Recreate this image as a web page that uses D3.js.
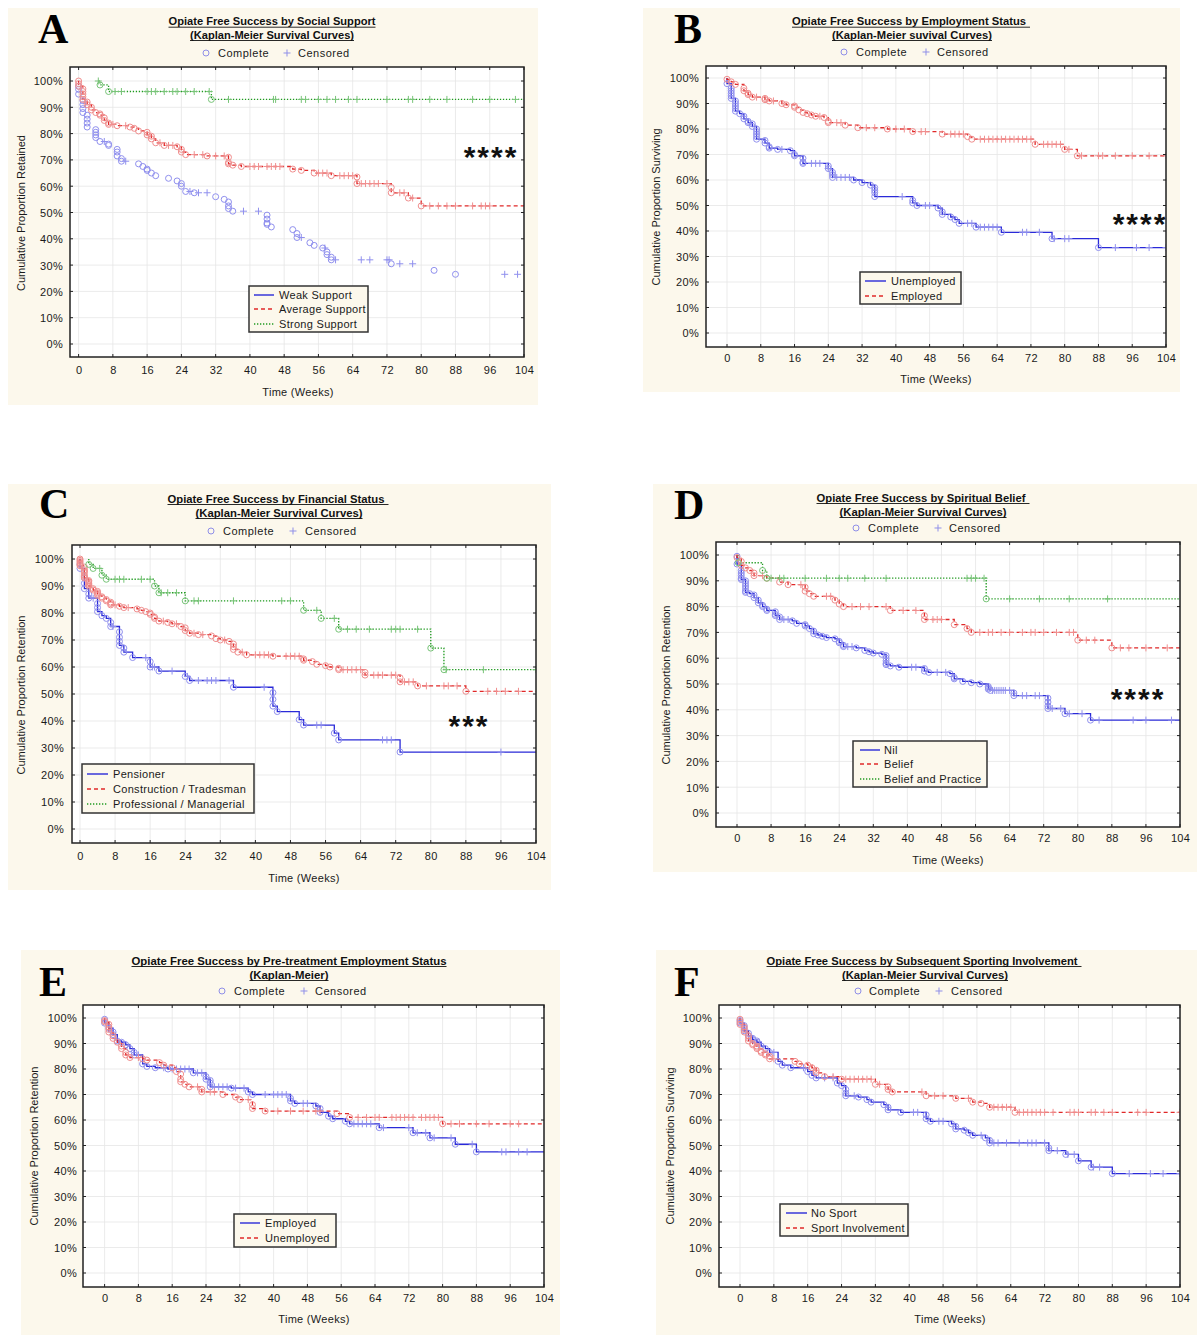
<!DOCTYPE html>
<html><head><meta charset="utf-8">
<script src="https://cdn.jsdelivr.net/npm/d3@7"></script>
<style>html,body{margin:0;padding:0;background:#fff;} svg{display:block}</style>
</head><body>
<svg id="fig" width="1200" height="1335"></svg>
<script>
// ---------- shared tick values / labels ----------
const xTicks = [0,8,16,24,32,40,48,56,64,72,80,88,96,104];
const xTickLabels = ["0","8","16","24","32","40","48","56","64","72","80","88","96","104"];
const yTicks = [0,10,20,30,40,50,60,70,80,90,100];
const yTickLabels = ["0%","10%","20%","30%","40%","50%","60%","70%","80%","90%","100%"];

// ---------- Panel A: Social Support ----------
// events: [week, survival% after each completed case at that week...]
const A_weak_ev = [[0,98,96.8,95],[1,92.5,91,89.5,88],[2,87,85.5,84,82.5],[4,81.5,80.5,79.5,78.5],[5,77],[7,76,75.5],[9,74,73,71.5],[10,70.5,69.5],[14,68.5],[15,67.5],[16,66.5,66],[17,65],[18,64],[21,63],[23,62],[24,61,60],[25,58],[27,57.5],[32,56],[34,55],[35,54,52.5,51.5],[36,50.5],[44,49,47.5,46,45.5],[45,44.5],[50,43.5],[51,42,40.5],[54,38.5],[55,37.5],[57,36.5],[58,35,34],[59,33,32],[73,30.5],[83,28],[88,26.5]];
const A_weak_cens = [6,11,26,28,30,38.5,42,52,57.5,60,66,68,72,72.5,75,78,99.5,102.5];
const A_avg_ev = [[0,100,99,98],[1,97,96,95,94,93],[2,92,91],[3,90,89],[4,88],[5,87.5,87],[6,86,85],[7,84,83.5],[9,83],[12,82.5],[13,82],[14,81],[16,80.5,79.5],[17,79,78],[18,76.5],[20,75.5],[23,75],[24,74,73],[25,72],[30,71.5],[35,71,69,68.5],[36,68],[38,67.5],[50,66.5],[52,66],[55,65],[59,64],[65,63.5,61],[73,59.5,57.5],[77,55.5],[80,52.5]];
const A_avg_cens = [8,11,19,21,22,27,29,32,34,40,41,42,44,45,46,47,56,57,58,61,62,63,64,66,67,68,69,70,72,75,76,78,82,84,86,88,92,94,95,96];
const A_strong_ev = [[5,98.5],[7,96],[31,93]];
const A_strong_cens = [4.6,8.5,10,16,17,18,20,22,23,25,27,30.5,35,45.5,46,52,53,56,58,60,63,65,72,77,78,82,86,92,96,102];
const A_names = ["Weak Support","Average Support","Strong Support"];

// ---------- Panel B: Employment Status ----------
const B_unemp_ev = [[0,97.8],[1,96,95,94,93,92],[2,91,90,89,88,87],[3,86],[4,85,84],[5,83,82.5],[6,82,81],[7,80,79,78,77,76],[9,75.5,74.5],[10,73,72.5],[12,72],[15,71.5],[16,70,69.5],[18,68.5,67,66.5],[24,65.5,64.5],[25,63,62,61],[30,60],[32,59],[34,58],[35,57,56,55,53.5],[44,52,51],[45,50],[50,49],[51,47.5,46.5],[53,45.5],[54,44.5],[55,43],[59,41.5],[65,39.5],[77,37],[88,33.5]];
const B_unemp_cens = [13,20,21,22,24,26,27,28,29,41.5,47,48,57,58,60,61,62,63,64,70,71,74,77.5,80,81,92,97,100,104];
const B_emp_ev = [[0,99.5],[1,98.5],[2,97.5],[4,96,95],[5,94,93.5],[6,92.5],[9,92,91.5],[10,91],[13,90],[14,89.5],[16,89,88.5],[17,87.5],[18,86.5],[19,86],[20,85.5],[21,85],[23,84.5],[24,83,82.5],[28,81.5],[31,80.5],[38,80],[44,79],[51,78],[57,77],[58,76],[73,74],[80,72],[83,69.5]];
const B_emp_cens = [7,11,22,26,27,33,35,40,42,46,47,53,54,55,56,60,61,62,63,64,65,66,67,68,69,70,71,72,75,76,77,78,79,81,84,88,89,92,96,100,104];
const B_names = ["Unemployed","Employed"];

// ---------- Panel C: Financial Status ----------
const C_pens_ev = [[0,98,96.5],[1,93,91,89],[2,87,85.5],[4,83.5,82,80.5],[5,79],[6,78],[7,76.5,75],[9,73,71,69.5,68],[10,67,65.5],[12,63.5],[16,62,60],[18,58.5],[24,56.5],[25,55],[35,52.5],[44,50.5,48,45.5],[45,43.5],[50,40.5],[51,38.5],[58,35.5],[59,33],[73,28.5]];
const C_pens_cens = [3,7.5,15,16.5,17,21,24.5,27,29,30,31,34,42,54,55,69,70,71,96];
const C_cons_ev = [[0,100,99.5,99,98.5,98,97.5],[1,97,96,95.5,95,94,93.5,93],[2,92,91.5,91,90.5,90],[3,89,88.5],[4,88,87.5,87,86.5],[5,86,85.5],[6,85,84.5],[7,84,83.5,83],[9,82.5],[10,82],[13,81.5],[14,81],[15,80.5],[16,80,79.5],[17,78.5,78],[18,77],[20,76.5],[21,76],[23,75],[24,74.5,73.5],[25,72.5],[27,72],[30,71.5],[31,70.5],[32,70],[34,69.5],[35,68.5,67.5,66.5],[36,65.5],[38,64.5],[44,64],[51,63,62.5],[53,62],[54,61],[56,60.5],[57,60],[59,59.5,59],[65,58,57],[73,56,54.5],[77,53],[88,51]];
const C_cons_cens = [8,11,19,22,26,28,33,37,40,41,42,43,47,48,49,50,60,61,62,63,64,67,68,69,71,72,74,75,76,79,83,84,86,93,95,97,100];
const C_prof_ev = [[2,98],[3,96.5],[5,94],[6,92.5],[17,90],[18,87.5],[24,84.5],[51,81],[55,78],[59,74],[80,67],[83,59]];
const C_prof_cens = [4.5,8,9,10,14,16,18.5,20,22,26,27,35,46,48,54,58,61,63,66,71,72,73,77,83.5,92,104];
const C_names = ["Pensioner","Construction / Tradesman","Professional / Managerial"];

// ---------- Panel D: Spiritual Belief ----------
const D_nil_ev = [[0,99.5,96.5],[1,94,93,92,91,90.5],[2,90,89,88,87,86,85.5],[3,85],[4,84.5,83.5],[5,82.5,81.5],[6,80.5,80],[7,79,78.5],[9,78,77,76.5],[10,76,75],[13,74.5],[14,73.5],[16,73,72.5],[17,71.5],[18,70.5,69.5],[19,69],[20,68.5],[21,68],[23,67.5],[24,66.5,66],[25,65,64.5],[28,64],[30,63],[31,62.5],[32,62],[34,61.5],[35,61,60,59,58,57.5],[36,57],[38,56.5],[44,56,55],[45,54.5],[50,54],[51,52.5,52],[53,51],[55,50.5],[57,50],[59,49,48.5,48],[59.5,47.5],[65,46.5,45.5],[73,44.5,43,41.5,40.5],[77,38.5],[83,36]];
const D_nil_cens = [11,12,26,27,41,42,47,49,60,60.5,61,61.5,62,62.5,63,64,67,68,70,71,74,76,78,81,85,93,96,102];
const D_bel_ev = [[0,99],[1,97.5,96],[2,95],[3,94],[4,93,92],[7,91],[10,89.5],[12,88.5],[16,87.5,86],[17,85],[18,84],[23,82.5],[24,81],[25,80],[36,78.5],[44,76.5,75],[51,73],[54,71.5],[55,70],[80,67],[88,64]];
const D_bel_cens = [6,15,21,22,27,29,31,35,39,42,46,47,48,57,59,60,62,64,67,69,70,72,75,78,79,82,84,90,92,96,101];
const D_bp_ev = [[0.3,97],[6,94],[7,91],[58.5,83]];
const D_bp_cens = [8,10,11,16,21,24,26,30,35,54,55,56,58,64,71,78,87];
const D_names = ["Nil","Belief","Belief and Practice"];

// ---------- Panel E: Pre-treatment Employment ----------
const E_emp_ev = [[0,99.5,98],[1,96],[2,94.5,93.5],[3,91],[4,90.5],[5,89.5],[6,88],[7,86.5,85.5],[9,82],[10,81],[12,80.5],[15,80],[21,78.5],[24,77,76],[25,75.5,74.5,73],[30,72.5],[34,71],[35,70],[44,68.5,67.5],[45,66.5],[50,65.5],[51,64.5,63],[53,61.5],[54,60.5],[57,59.5],[58,58.5],[65,57],[73,55],[77,53],[83,50.5],[88,47.5]];
const E_emp_cens = [8,14,16,17,18,19,20,22,23,26,27,28,29,31,33,38,40,41,42,43,47,48,59,60,61,62,63,66,72,74,76,78,82,87,94,95,98,100];
const E_unemp_ev = [[0,99,98.5],[1,97.5,96.5,95.5,94.5],[2,93,92],[3,90.5],[4,89,88],[5,86.5,85.5],[6,84.5],[9,84],[10,83.5],[13,82.5],[14,81.5],[16,80.5],[17,79],[18,78,76,75],[19,74],[20,73],[23,72,71],[28,70],[31,69],[32,68],[35,66,64.5],[38,63.5],[55,62.5],[58,61],[80,58.5]];
const E_unemp_cens = [8,22,25,26,34,41,44,47,50,51,60,62,64,65,68,69,70,71,72,73,75,76,77,78,79,82,84,88,91,96,98];
const E_names = ["Employed","Unemployed"];

// ---------- Panel F: Sporting Involvement ----------
const F_no_ev = [[0,99,98],[1,97,96,95],[2,94,93],[3,92,91.5],[4,91,90.5],[5,89],[6,88],[7,86.5],[9,83],[10,81.5],[12,80.5],[16,79],[17,77.5],[18,76.5],[23,74.5],[24,73.5],[25,72,70.5,69.5],[28,69],[30,68],[31,67],[34,66],[35,65,64],[38,63],[44,62,60.5],[45,59.5],[50,58.5],[51,57.5,56.5],[53,56],[54,55],[55,54],[58,53],[59,52,51],[73,49,48],[77,46.5],[80,44],[83,41.5],[88,39]];
const F_no_cens = [8,15,20,22,27,41,42,47,48,57,60,61,63,66,68,69,70,72,75,77.5,79,83.5,85,92,97,100,104];
const F_sport_ev = [[0,99.5,98.5,97.5],[1,96.5,95.5,94.5],[2,93,92,91],[3,90,89.5],[4,89,88.5,88],[5,87,86.5],[6,86,85.5],[7,85,84],[13,83],[14,82],[16,81.5],[17,80.5],[18,79.5,78.5],[20,77],[24,76],[32,74],[35,73,72],[36,71],[44,69.5],[51,68.5],[55,67],[57,66.5],[59,65],[65,63]];
const F_sport_cens = [8,22,25,26,27,28,29,30,31,33,43,46,48,54,60,61,62,63,64,66,67,68,69,70,71,72,74,78,79,80,83,84,86,88,94,96,104];
const F_names = ["No Sport","Sport Involvement"];

// ---------- styles ----------
const STY = [
  {line:"#2a2ad8", dash:null, mark:"#9090ee"},
  {line:"#e02828", dash:"4,3", mark:"#f08e8e"},
  {line:"#1f9a1f", dash:"1.3,1.7", mark:"#78c478"}
];
const BG = "#fcf8ec";
const SANS = "'Liberation Sans', Arial, sans-serif";
const SERIF = "'Liberation Serif', 'Times New Roman', serif";

const svg = d3.select("#fig");

// ---------- panel configs (layout only) ----------
const panels = [
 {letter:"A", lx:38, ly:43, bg:[8,8,538,405],
  left:70, top:67, bottom:357, x0:78.6, x104:524, y0:344, y100:81,
  t1:["Opiate Free Success by Social Support",272,21.7,207,207], t2:["(Kaplan-Meier Survival Curves)",272,35,164],
  hdr:{cy:53,c:206,ct:218,p:287,pt:298},
  ylab:["Cumulative Proportion Retained",21,213], yr:63, xy:370, xlab:[298,392],
  leg:{x1:249,y1:286,x2:368,y2:332,rows:[295,309,324],l1:254,l2:274,tx:279},
  stars:["****",491,150], hideFirstLine:true,
  series:[[A_weak_ev,A_weak_cens],[A_avg_ev,A_avg_cens],[A_strong_ev,A_strong_cens]], names:A_names},
 {letter:"B", lx:674, ly:43, bg:[643,8,1180,392],
  left:706, top:66, bottom:347, x0:727, x104:1166, y0:333, y100:78,
  t1:["Opiate Free Success by Employment Status",911,21.7,234,238], t2:["(Kaplan-Meier suvival Curves)",912,35,160],
  hdr:{cy:52,c:844,ct:856,p:926,pt:937},
  ylab:["Cumulative Proportion Surviving",656,207], yr:699, xy:358, xlab:[936,379],
  leg:{x1:860,y1:272,x2:961,y2:304,rows:[281,296],l1:865,l2:886,tx:891},
  stars:["****",1140,217],
  series:[[B_unemp_ev,B_unemp_cens],[B_emp_ev,B_emp_cens]], names:B_names},
 {letter:"C", lx:39, ly:518, bg:[8,484,551,890],
  left:72, top:545, bottom:843, x0:80, x104:536, y0:829, y100:559,
  t1:["Opiate Free Success by Financial Status",278,499,217,221], t2:["(Kaplan-Meier Survival Curves)",279,513,167],
  hdr:{cy:531,c:211,ct:223,p:293,pt:305},
  ylab:["Cumulative Proportion Retention",21,695], yr:64, xy:856, xlab:[304,878],
  leg:{x1:82,y1:764,x2:254,y2:813,rows:[774,789,804],l1:87,l2:108,tx:113},
  stars:["***",469,719],
  series:[[C_pens_ev,C_pens_cens],[C_cons_ev,C_cons_cens],[C_prof_ev,C_prof_cens]], names:C_names},
 {letter:"D", lx:674, ly:519, bg:[653,484,1197,872],
  left:716, top:542, bottom:827, x0:737, x104:1180, y0:813, y100:555,
  t1:["Opiate Free Success by Spiritual Belief",923,498,209,213], t2:["(Kaplan-Meier Survival Curves)",923,512,167],
  hdr:{cy:528,c:856,ct:868,p:938,pt:949},
  ylab:["Cumulative Proportion Retention",666,685], yr:709, xy:838, xlab:[948,860],
  leg:{x1:853,y1:741,x2:987,y2:787,rows:[750,764,779],l1:860,l2:880,tx:884},
  stars:["****",1138,692],
  series:[[D_nil_ev,D_nil_cens],[D_bel_ev,D_bel_cens],[D_bp_ev,D_bp_cens]], names:D_names},
 {letter:"E", lx:39, ly:996, bg:[21,950,560,1335],
  left:83, top:1005, bottom:1287, x0:104.6, x104:544, y0:1273, y100:1018,
  t1:["Opiate Free Success by Pre-treatment Employment Status",289,961,315,315], t2:["(Kaplan-Meier)",289,975,79],
  hdr:{cy:991,c:222,ct:234,p:304,pt:315},
  ylab:["Cumulative Proportion Retention",34,1146], yr:77, xy:1298, xlab:[314,1319],
  leg:{x1:234,y1:1214,x2:336,y2:1247,rows:[1223,1238],l1:240,l2:260,tx:265},
  stars:null,
  series:[[E_emp_ev,E_emp_cens],[E_unemp_ev,E_unemp_cens]], names:E_names},
 {letter:"F", lx:674, ly:996, bg:[656,950,1197,1335],
  left:719, top:1005, bottom:1287, x0:740, x104:1180, y0:1273, y100:1018,
  t1:["Opiate Free Success by Subsequent Sporting Involvement",924,961,311,315], t2:["(Kaplan-Meier Survival Curves)",925,975,166],
  hdr:{cy:991,c:858,ct:869,p:939,pt:951},
  ylab:["Cumulative Proportion Surviving",670,1146], yr:712, xy:1298, xlab:[950,1319],
  leg:{x1:780,y1:1204,x2:908,y2:1236,rows:[1213,1228],l1:786,l2:807,tx:811},
  stars:null,
  series:[[F_no_ev,F_no_cens],[F_sport_ev,F_sport_cens]], names:F_names}
];

function flatEvents(ev){ const out=[]; ev.forEach(r=>{ for(let i=1;i<r.length;i++) out.push([r[0],r[i]]); }); return out; }
// curve starts at the series' first observation (event or censored case), at 100%
function stepPath(ev,cens){
  const fe=flatEvents(ev);
  const start=Math.min(fe.length?fe[0][0]:104, cens.length?cens[0]:104);
  const pts=[[start,100]]; let cur=100;
  fe.forEach(([t,s])=>{ pts.push([t,cur]); pts.push([t,s]); cur=s; });
  pts.push([104,cur]); return pts;
}
function valueAt(ev,t){ let cur=100; flatEvents(ev).forEach(([tt,s])=>{ if(tt<=t) cur=s; }); return cur; }

function plus(g,cx,cy,h,color){
  g.append("line").attr("x1",cx-h).attr("x2",cx+h).attr("y1",cy).attr("y2",cy).attr("stroke",color).attr("stroke-width",1);
  g.append("line").attr("x1",cx).attr("x2",cx).attr("y1",cy-h).attr("y2",cy+h).attr("stroke",color).attr("stroke-width",1);
}

panels.forEach((P,pi)=>{
  const g = svg.append("g");
  g.append("rect").attr("x",P.bg[0]).attr("y",P.bg[1]).attr("width",P.bg[2]-P.bg[0]).attr("height",P.bg[3]-P.bg[1]).attr("fill",BG);
  const x = d3.scaleLinear().domain([0,104]).range([P.x0,P.x104]);
  const y = d3.scaleLinear().domain([0,100]).range([P.y0,P.y100]);
  const L=P.left, R=P.x104, T=P.top, B=P.bottom;
  g.append("rect").attr("x",L).attr("y",T).attr("width",R-L).attr("height",B-T).attr("fill","#fff");
  // grid
  g.append("g").selectAll("line").data(xTicks).join("line")
    .attr("x1",d=>x(d)).attr("x2",d=>x(d)).attr("y1",T).attr("y2",B).attr("stroke","#e6e6e6").attr("stroke-width",0.8);
  g.append("g").selectAll("line").data(yTicks).join("line")
    .attr("y1",d=>y(d)).attr("y2",d=>y(d)).attr("x1",L).attr("x2",R).attr("stroke","#e6e6e6").attr("stroke-width",0.8);
  // clip
  const cid="clip"+pi;
  g.append("clipPath").attr("id",cid).append("rect").attr("x",L).attr("y",T).attr("width",R-L).attr("height",B-T);
  const plot=g.append("g").attr("clip-path",`url(#${cid})`);
  const line=d3.line().x(d=>x(d[0])).y(d=>y(d[1]));
  P.series.forEach(([ev,cens],si)=>{
    if(P.hideFirstLine && si===0) return;
    plot.append("path").attr("d",line(stepPath(ev,cens))).attr("fill","none")
      .attr("stroke",STY[si].line).attr("stroke-width",1.3).attr("stroke-dasharray",STY[si].dash);
  });
  P.series.forEach(([ev,cens],si)=>{
    const mk=plot.append("g");
    flatEvents(ev).forEach(([t,s])=>{
      mk.append("circle").attr("cx",x(t)).attr("cy",y(s)).attr("r",3).attr("fill","none").attr("stroke",STY[si].mark).attr("stroke-width",1);
    });
    cens.forEach(t=>plus(mk,x(t),y(valueAt(ev,t)),3.5,STY[si].mark));
  });
  // frame
  g.append("rect").attr("x",L).attr("y",T).attr("width",R-L).attr("height",B-T).attr("fill","none").attr("stroke","#222").attr("stroke-width",1.5);
  const tk=g.append("g").attr("stroke","#222").attr("stroke-width",1);
  xTicks.forEach(d=>{ tk.append("line").attr("x1",x(d)).attr("x2",x(d)).attr("y1",B).attr("y2",B-3);
                      tk.append("line").attr("x1",x(d)).attr("x2",x(d)).attr("y1",T).attr("y2",T+3); });
  yTicks.forEach(d=>{ tk.append("line").attr("y1",y(d)).attr("y2",y(d)).attr("x1",L).attr("x2",L+3);
                      tk.append("line").attr("y1",y(d)).attr("y2",y(d)).attr("x1",R).attr("x2",R-3); });
  // axes labels via d3 axes
  const ax=g.append("g").attr("transform",`translate(0,${P.xy})`)
    .call(d3.axisBottom(x).tickValues(xTicks).tickFormat((d,i)=>xTickLabels[i]).tickSize(0).tickPadding(0));
  ax.select(".domain").remove();
  ax.selectAll("text").attr("y",0).attr("dy","0.36em").attr("font-family",SANS).attr("font-size",11).attr("fill","#1a1a1a").attr("letter-spacing",0.3);
  const ay=g.append("g").attr("transform",`translate(${P.yr},0)`)
    .call(d3.axisLeft(y).tickValues(yTicks).tickFormat((d,i)=>yTickLabels[i]).tickSize(0).tickPadding(0));
  ay.select(".domain").remove();
  ay.selectAll("text").attr("x",0).attr("dy","0.36em").attr("font-family",SANS).attr("font-size",11).attr("fill","#1a1a1a").attr("letter-spacing",0.3);
  ax.attr("font-family",null).attr("font-size",null); ay.attr("font-family",null).attr("font-size",null);
  // axis titles
  g.append("text").attr("x",P.xlab[0]).attr("y",P.xlab[1]).attr("dy","0.36em").attr("text-anchor","middle")
    .attr("font-family",SANS).attr("font-size",11).attr("letter-spacing",0.3).attr("fill","#1a1a1a").text("Time (Weeks)");
  g.append("text").attr("transform",`translate(${P.ylab[1]},${P.ylab[2]}) rotate(-90)`).attr("dy","0.36em").attr("text-anchor","middle")
    .attr("font-family",SANS).attr("font-size",11).attr("fill","#1a1a1a").text(P.ylab[0]);
  // titles
  [P.t1,P.t2].forEach(t=>{
    const tw=t[3], uw=t[4]||t[3];
    g.append("text").attr("x",t[1]-uw/2).attr("y",t[2]).attr("dy","0.36em")
      .attr("font-family",SANS).attr("font-weight","bold").attr("font-size",10.5).attr("fill","#111")
      .attr("textLength",tw).attr("lengthAdjust","spacingAndGlyphs").text(t[0]);
    g.append("line").attr("x1",t[1]-uw/2).attr("x2",t[1]+uw/2).attr("y1",t[2]+5.5).attr("y2",t[2]+5.5).attr("stroke","#111").attr("stroke-width",0.9);
  });
  // complete / censored header
  const h=P.hdr;
  g.append("circle").attr("cx",h.c).attr("cy",h.cy).attr("r",3).attr("fill","none").attr("stroke","#8f8fe8").attr("stroke-width",1);
  plus(g,h.p,h.cy,3.5,"#8f8fe8");
  g.append("text").attr("x",h.ct).attr("y",h.cy).attr("dy","0.36em").attr("font-family",SANS).attr("font-size",11).attr("letter-spacing",0.5).attr("fill","#1a1a1a").text("Complete");
  g.append("text").attr("x",h.pt).attr("y",h.cy).attr("dy","0.36em").attr("font-family",SANS).attr("font-size",11).attr("letter-spacing",0.5).attr("fill","#1a1a1a").text("Censored");
  // legend box
  const lg=P.leg;
  g.append("rect").attr("x",lg.x1).attr("y",lg.y1).attr("width",lg.x2-lg.x1).attr("height",lg.y2-lg.y1).attr("fill",BG).attr("stroke","#333").attr("stroke-width",1.5);
  P.names.forEach((nm,i)=>{
    g.append("line").attr("x1",lg.l1).attr("x2",lg.l2).attr("y1",lg.rows[i]).attr("y2",lg.rows[i])
      .attr("stroke",STY[i].line).attr("stroke-width",1.4).attr("stroke-dasharray",STY[i].dash);
    g.append("text").attr("x",lg.tx).attr("y",lg.rows[i]).attr("dy","0.36em").attr("font-family",SANS).attr("font-size",11)
      .attr("letter-spacing",0.3).attr("fill","#1a1a1a").text(nm);
  });
  // significance stars
  if(P.stars){
    g.append("text").attr("x",P.stars[1]).attr("y",P.stars[2]+17).attr("text-anchor","middle")
      .attr("font-family",SANS).attr("font-weight","bold").attr("font-size",30).attr("letter-spacing",2).attr("fill","#111").text(P.stars[0]);
  }
  // panel letter
  g.append("text").attr("x",P.lx).attr("y",P.ly).attr("font-family",SERIF).attr("font-weight","bold").attr("font-size",42).attr("fill","#000").text(P.letter);
});
</script>
</body></html>
